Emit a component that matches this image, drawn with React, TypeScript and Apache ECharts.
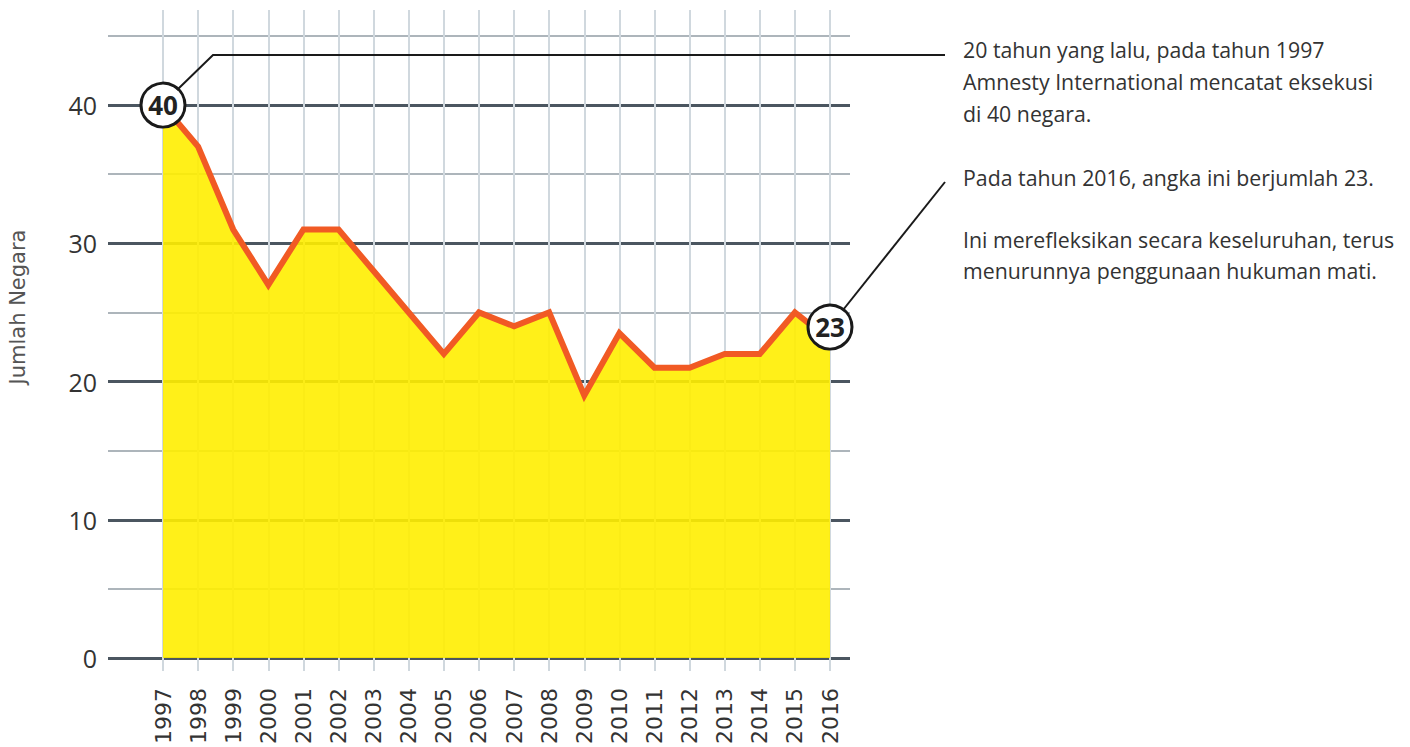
import React, { useEffect, useRef } from "react";
import * as echarts from "echarts";

const YEARS = ["1997","1998","1999","2000","2001","2002","2003","2004","2005","2006","2007","2008","2009","2010","2011","2012","2013","2014","2015","2016"];
const COUNTRIES = [40, 37, 31, 27, 31, 31, 28, 25, 22, 25, 24, 25, 19, 23.5, 21, 21, 22, 22, 25, 23];
const Y_TICK_LABELS = [0, 10, 20, 30, 40];
const Y_MIN = 0;
const Y_MAX = 45;
const Y_NAME = "Jumlah Negara";
const NOTE_1 = ["20 tahun yang lalu, pada tahun 1997", "Amnesty International mencatat eksekusi", "di 40 negara."];
const NOTE_2 = ["Pada tahun 2016, angka ini berjumlah 23.", "", "Ini merefleksikan secara keseluruhan, terus", "menurunnya penggunaan hukuman mati."];

const MAJOR = "#4b5660";
const MINOR = "#929da5";
const VERT = "#d0d8de";

export default function App() {
  const ref = useRef<HTMLDivElement>(null);
  useEffect(() => {
    if (!ref.current) return;
    const chart = echarts.init(ref.current, null, { renderer: "svg" });
    const last = YEARS.length - 1;
    const option: any = {
      animation: false,
      backgroundColor: "#ffffff",
      grid: [
        { left: 108, right: 560, top: 36, bottom: 89 },
        { left: 163, right: 580, top: 36, bottom: 89 },
      ],
      xAxis: [
        { type: "value", gridIndex: 0, show: false, min: 0, max: 1 },
        {
          type: "category", gridIndex: 1, data: YEARS, boundaryGap: false, position: "bottom",
          axisLine: { show: false },
          axisTick: { show: true, length: 13, lineStyle: { color: VERT, width: 2 } },
          splitLine: { show: true, lineStyle: { color: VERT, width: 2 } },
          axisLabel: { rotate: 90, margin: 30, fontSize: 22, color: "#333", fontFamily: "DejaVu Sans", interval: 0 },
        },
        {
          type: "category", gridIndex: 1, data: YEARS, boundaryGap: false, position: "top",
          axisLine: { show: false },
          axisTick: { show: true, length: 26, lineStyle: { color: VERT, width: 2 } },
          axisLabel: { show: false },
          splitLine: { show: false },
        },
      ],
      yAxis: [
        {
          type: "value", gridIndex: 0, min: Y_MIN, max: Y_MAX, interval: 5, position: "left",
          axisLine: { show: false }, axisTick: { show: false }, axisLabel: { show: false },
          splitLine: { show: true, lineStyle: { color: MINOR, width: 1.5 } },
        },
        {
          type: "value", gridIndex: 0, min: Y_MIN, max: Y_MAX, interval: 5, position: "left",
          axisLine: { show: false }, axisTick: { show: false },
          axisLabel: {
            margin: 11, fontSize: 25, color: "#333", fontFamily: "Open Sans",
            formatter: (v: number) => (Y_TICK_LABELS.indexOf(v) >= 0 ? String(v) : ""),
          },
          splitLine: { show: true, lineStyle: { color: [MAJOR, "rgba(0,0,0,0)"], width: 3 } },
        },
        { type: "value", gridIndex: 1, min: Y_MIN, max: Y_MAX, show: false, splitLine: { show: false } },
      ],
      series: [
        {
          type: "line", xAxisIndex: 1, yAxisIndex: 2, data: COUNTRIES, symbol: "none",
          lineStyle: { color: "#f15a24", width: 6, join: "miter" },
          areaStyle: { color: "#ffee00", opacity: 0.9 },
          z: 3,
          markPoint: {
            symbol: "circle", symbolSize: 44,
            itemStyle: { color: "#ffffff", borderColor: "#1a1a1a", borderWidth: 3 },
            label: { show: true, formatter: "{c}", color: "#222", fontSize: 26, fontWeight: "bold", fontFamily: "Open Sans" },
            data: [
              { coord: [YEARS[0], COUNTRIES[0]], value: COUNTRIES[0] },
              { coord: [YEARS[last], COUNTRIES[last]], value: COUNTRIES[last], symbolOffset: [0, -13] },
            ],
          },
        },
      ],
      graphic: [
        {
          type: "text", x: 18, y: 307, rotation: Math.PI / 2,
          style: { text: Y_NAME, fill: "#555", fontSize: 21, fontFamily: "DejaVu Sans", align: "center", verticalAlign: "middle" },
        },
        {
          type: "polyline", z: 10,
          shape: { points: [[177, 90], [213, 55], [945, 55]] },
          style: { stroke: "#1a1a1a", lineWidth: 2, fill: "none" },
        },
        {
          type: "line", z: 10,
          shape: { x1: 843, y1: 310, x2: 945, y2: 182 },
          style: { stroke: "#1a1a1a", lineWidth: 2 },
        },
        {
          type: "text", x: 963, y: 33,
          style: { text: NOTE_1.join("\n"), fill: "#333", fontSize: 21.3, lineHeight: 32, fontFamily: "Open Sans", align: "left", verticalAlign: "top" },
        },
        {
          type: "text", x: 963, y: 162,
          style: { text: NOTE_2.join("\n"), fill: "#333", fontSize: 21.3, lineHeight: 31, fontFamily: "Open Sans", align: "left", verticalAlign: "top" },
        },
      ],
    };
    chart.setOption(option);
    return () => chart.dispose();
  }, []);
  return <div ref={ref} style={{ position: "absolute", left: 0, top: 0, width: 1410, height: 747 }} />;
}
